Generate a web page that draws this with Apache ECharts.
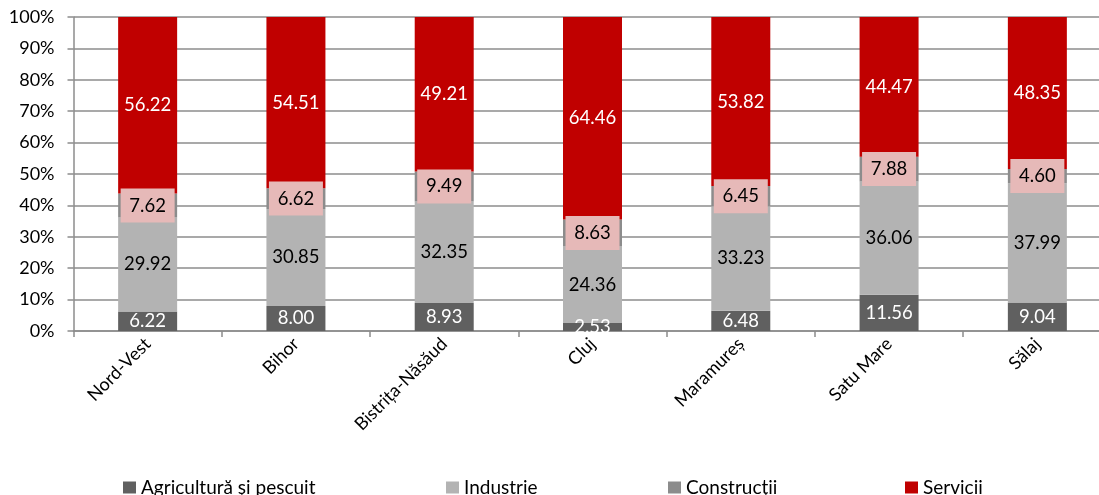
<!DOCTYPE html>
<html>
<head>
<meta charset="utf-8">
<script src="https://cdn.jsdelivr.net/npm/echarts@6/dist/echarts.min.js"></script>
<style>html,body{margin:0;padding:0;background:#fff;overflow:hidden;}#c{width:1120px;height:495px;}</style>
</head>
<body>
<div id="c"></div>
<script>
const categories = ['Nord-Vest', 'Bihor', 'Bistrița-Năsăud', 'Cluj', 'Maramureș', 'Satu Mare', 'Sălaj'];
const agricultura = [6.22, 8.00, 8.93, 2.53, 6.48, 11.56, 9.04];
const industrie = [29.92, 30.85, 32.35, 24.36, 33.23, 36.06, 37.99];
const constructii = [7.62, 6.62, 9.49, 8.63, 6.45, 7.88, 4.60];
const servicii = [56.22, 54.51, 49.21, 64.46, 53.82, 44.47, 48.35];
const seriesNames = ['Agricultură și pescuit', 'Industrie', 'Construcții', 'Servicii'];
const yTicks = [0, 10, 20, 30, 40, 50, 60, 70, 80, 90, 100];

const FONT = 'Lato';
const chart = echarts.init(document.getElementById('c'));
function lbl(color, extra) {
  return Object.assign({
    show: true, position: 'inside', color: color, fontFamily: FONT, fontSize: 18.5,
    formatter: p => p.value.toFixed(2)
  }, extra || {});
}
const colors = ['#606060', '#b3b3b3', '#8c8c8c', '#c00000'];
const legendX = [123, 446, 668, 905];
chart.setOption({
  animation: false,
  textStyle: { fontFamily: FONT },
  grid: { left: 73.5, top: 17, width: 1038, height: 314 },
  legend: seriesNames.map((n, i) => ({
    data: [n], left: legendX[i], top: 478, padding: 0, itemWidth: 13, itemHeight: 12, itemGap: 4,
    icon: 'rect', textStyle: { fontFamily: FONT, fontSize: 19, color: '#000', padding: [0, 0, 0, 0] }
  })),
  xAxis: {
    type: 'category', data: categories,
    axisLine: { lineStyle: { color: '#8c8c8c', width: 1.5 } },
    axisTick: { show: true, length: 6, lineStyle: { color: '#8c8c8c', width: 1.5 } },
    axisLabel: { rotate: 45, fontFamily: FONT, fontSize: 18, color: '#000', margin: 10 }
  },
  yAxis: {
    type: 'value', min: 0, max: 100, interval: 10,
    axisLine: { show: true, lineStyle: { color: '#8c8c8c', width: 1.5 } },
    axisTick: { show: true, length: 6, lineStyle: { color: '#8c8c8c', width: 1.5 } },
    splitLine: { lineStyle: { color: '#8c8c8c', width: 1.5 } },
    axisLabel: { fontFamily: FONT, fontSize: 18, color: '#000', margin: 19,
      formatter: v => (yTicks.includes(v) ? v + '%' : '') }
  },
  series: [
    { name: seriesNames[0], type: 'bar', stack: 's', barWidth: 59, data: agricultura,
      itemStyle: { color: colors[0] }, label: lbl('#fff') },
    { name: seriesNames[1], type: 'bar', stack: 's', barWidth: 59, data: industrie,
      itemStyle: { color: colors[1] }, label: lbl('#000') },
    { name: seriesNames[2], type: 'bar', stack: 's', barWidth: 59, data: constructii,
      itemStyle: { color: colors[2] },
      label: lbl('#000', { backgroundColor: '#e6b9b8', width: 54, height: 34, lineHeight: 34, align: 'center', padding: 0 }) },
    { name: seriesNames[3], type: 'bar', stack: 's', barWidth: 59, data: servicii,
      itemStyle: { color: colors[3] }, label: lbl('#fff') }
  ]
});
</script>
</body>
</html>
